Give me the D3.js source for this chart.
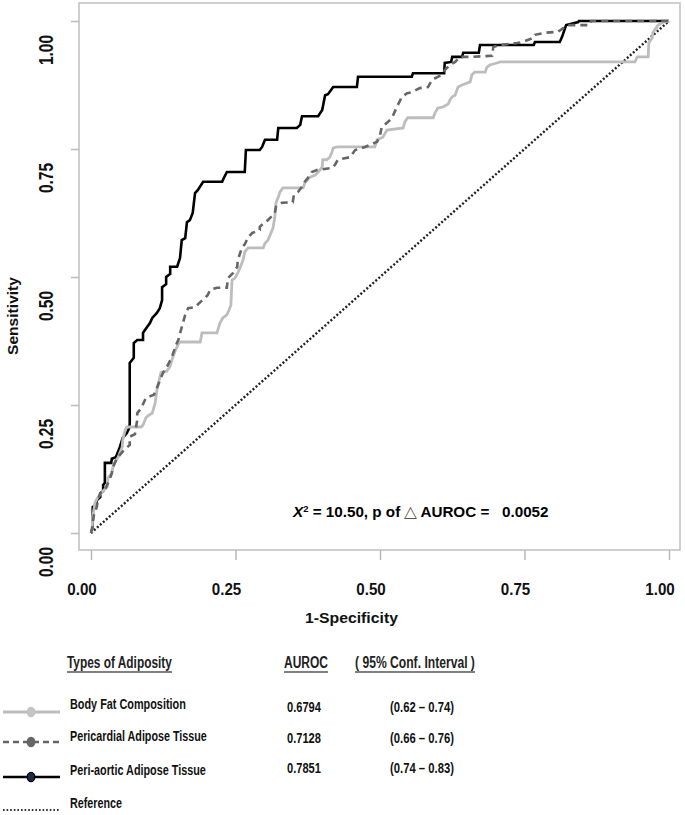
<!DOCTYPE html>
<html><head><meta charset="utf-8">
<script src="https://cdn.jsdelivr.net/npm/d3@7"></script>
<style>
body{margin:0;background:#fff;}
svg text{font-family:Arial,"Liberation Sans",Helvetica,sans-serif;font-weight:bold;white-space:pre;}
</style>
</head><body>
<svg id="chart" width="685" height="815"></svg>
<script>
// ---------------- data ----------------
const xTickValues = [0, 0.25, 0.5, 0.75, 1];
const xTickLabels = ["0.00", "0.25", "0.50", "0.75", "1.00"];
const yTickValues = [0, 0.25, 0.5, 0.75, 1];
const yTickLabels = ["0.00", "0.25", "0.50", "0.75", "1.00"];
const xTitle = "1-Specificity";
const yTitle = "Sensitivity";

const seriesNames = ["Body Fat Composition", "Pericardial Adipose Tissue", "Peri-aortic Adipose Tissue", "Reference"];
const aurocValues = ["0.6794", "0.7128", "0.7851"];
const ciLabels = ["(0.62 \u2013 0.74)", "(0.66 \u2013 0.76)", "(0.74 \u2013 0.83)"];
const legendHeaders = ["Types of Adiposity", "AUROC", "( 95% Conf. Interval )"];

// Body fat composition ROC (1-specificity, sensitivity)
const bodyFatFpr = [0,0.002,0.003,0.007,0.012,0.019,0.028,0.029,0.036,0.038,0.042,0.047,0.054,0.055,0.059,0.062,0.087,0.090,0.095,0.100,0.106,0.111,0.114,0.118,0.121,0.131,0.137,0.140,0.145,0.151,0.154,0.189,0.192,0.218,0.223,0.228,0.235,0.239,0.242,0.244,0.249,0.254,0.258,0.263,0.266,0.272,0.298,0.301,0.306,0.310,0.315,0.318,0.320,0.324,0.327,0.332,0.367,0.370,0.374,0.379,0.388,0.396,0.400,0.401,0.408,0.413,0.417,0.419,0.426,0.491,0.495,0.505,0.512,0.540,0.543,0.548,0.592,0.595,0.600,0.609,0.618,0.621,0.625,0.630,0.633,0.635,0.642,0.656,0.659,0.664,0.682,0.685,0.690,0.702,0.708,0.941,0.945,0.964,0.965,0.971,0.972,0.981,0.990,1.0];
const bodyFatTpr = [0,0.006,0.031,0.059,0.070,0.080,0.090,0.107,0.117,0.129,0.139,0.148,0.168,0.182,0.201,0.207,0.207,0.211,0.225,0.230,0.234,0.254,0.279,0.299,0.313,0.316,0.326,0.338,0.354,0.369,0.373,0.373,0.391,0.391,0.410,0.420,0.426,0.436,0.445,0.494,0.498,0.508,0.518,0.533,0.549,0.557,0.557,0.566,0.572,0.582,0.596,0.617,0.645,0.656,0.666,0.674,0.674,0.684,0.689,0.695,0.699,0.709,0.715,0.729,0.729,0.734,0.744,0.752,0.754,0.754,0.768,0.773,0.787,0.791,0.803,0.811,0.811,0.820,0.830,0.832,0.838,0.846,0.852,0.855,0.865,0.871,0.875,0.881,0.895,0.900,0.900,0.910,0.914,0.918,0.920,0.920,0.930,0.930,0.957,0.967,0.977,0.992,0.998,1.0];

// Pericardial adipose tissue ROC
const pericardialFpr = [0,0.002,0.005,0.010,0.012,0.016,0.024,0.028,0.033,0.036,0.038,0.045,0.054,0.061,0.067,0.067,0.076,0.080,0.080,0.087,0.095,0.109,0.116,0.125,0.133,0.140,0.147,0.151,0.157,0.163,0.168,0.180,0.189,0.197,0.202,0.206,0.218,0.235,0.237,0.246,0.253,0.254,0.261,0.266,0.272,0.279,0.292,0.292,0.301,0.306,0.318,0.320,0.324,0.330,0.349,0.351,0.358,0.365,0.370,0.375,0.382,0.391,0.417,0.422,0.427,0.439,0.448,0.457,0.474,0.495,0.500,0.503,0.514,0.521,0.529,0.538,0.547,0.555,0.569,0.583,0.590,0.600,0.607,0.612,0.621,0.630,0.638,0.656,0.694,0.696,0.708,0.737,0.747,0.765,0.768,0.785,0.808,0.817,0.824,0.863,0.865,1.0];
const pericardialTpr = [0,0.010,0.035,0.051,0.064,0.078,0.084,0.094,0.107,0.117,0.129,0.146,0.158,0.166,0.172,0.188,0.193,0.221,0.234,0.244,0.264,0.270,0.289,0.314,0.328,0.344,0.367,0.377,0.402,0.426,0.439,0.441,0.451,0.459,0.465,0.475,0.479,0.479,0.498,0.508,0.520,0.533,0.557,0.564,0.578,0.586,0.592,0.598,0.607,0.611,0.625,0.637,0.641,0.645,0.646,0.660,0.666,0.676,0.686,0.693,0.705,0.709,0.713,0.719,0.729,0.732,0.734,0.748,0.754,0.764,0.777,0.793,0.803,0.811,0.832,0.852,0.859,0.861,0.869,0.871,0.885,0.891,0.895,0.904,0.914,0.920,0.930,0.930,0.932,0.949,0.953,0.957,0.959,0.967,0.973,0.977,0.979,0.986,0.992,0.992,1.0,1.0];

// Peri-aortic adipose tissue ROC
const periAorticFpr = [0,0.003,0.003,0.009,0.010,0.016,0.016,0.021,0.021,0.024,0.024,0.035,0.036,0.043,0.050,0.055,0.062,0.066,0.067,0.067,0.071,0.074,0.074,0.080,0.090,0.090,0.093,0.102,0.106,0.114,0.119,0.123,0.123,0.130,0.130,0.137,0.137,0.149,0.154,0.157,0.163,0.166,0.171,0.176,0.180,0.185,0.194,0.227,0.228,0.235,0.266,0.268,0.292,0.296,0.301,0.322,0.324,0.356,0.362,0.365,0.393,0.400,0.405,0.410,0.419,0.460,0.462,0.555,0.557,0.611,0.612,0.623,0.625,0.642,0.644,0.671,0.673,0.766,0.768,0.811,0.815,0.822,0.843,0.844,1.0];
const periAorticTpr = [0,0.010,0.051,0.055,0.064,0.070,0.078,0.082,0.094,0.098,0.137,0.137,0.145,0.148,0.168,0.186,0.195,0.205,0.213,0.332,0.338,0.342,0.371,0.377,0.377,0.391,0.396,0.410,0.420,0.430,0.439,0.455,0.480,0.486,0.500,0.506,0.520,0.520,0.537,0.572,0.576,0.607,0.611,0.625,0.664,0.670,0.686,0.686,0.689,0.705,0.705,0.748,0.748,0.754,0.768,0.768,0.791,0.791,0.797,0.814,0.814,0.826,0.855,0.857,0.871,0.871,0.891,0.891,0.898,0.898,0.918,0.920,0.930,0.930,0.938,0.938,0.953,0.953,0.959,0.959,0.969,0.992,0.998,1.0,1.0];

// Reference (chance) line
const referenceFpr = [0, 1];
const referenceTpr = [0, 1];

const annotationParts = ["X", "2", " = 10.50, p of ", "\u25B3", " AUROC =   0.0052"];

// ---------------- layout ----------------
const svg = d3.select("#chart");
const x = d3.scaleLinear().domain([0, 1]).range([91, 669]);
const y = d3.scaleLinear().domain([0, 1]).range([533, 21]);
const frame = {left: 79, right: 680, top: 3, bottom: 550};

function zip(a, b) { return a.map((v, i) => [v, b[i]]); }

function fitText(parent, opt) {
  const g = parent.append("g");
  const t = g.append("text")
    .attr("font-size", opt.size)
    .attr("text-anchor", opt.anchor || "start")
    .attr("fill", opt.fill || "#000");
  if (opt.text !== undefined) t.text(opt.text);
  if (opt.build) opt.build(t);
  const w = t.node().getComputedTextLength();
  const sx = opt.width ? opt.width / w : 1;
  g.attr("transform", `translate(${opt.x},${opt.y}) rotate(${opt.rotate || 0}) scale(${sx},1)`);
  return t;
}

// frame
svg.append("rect")
  .attr("x", frame.left).attr("y", frame.top)
  .attr("width", frame.right - frame.left).attr("height", frame.bottom - frame.top)
  .attr("fill", "none").attr("stroke", "#c4c4c4").attr("stroke-width", 1.6);

// axes (ticks only)
const axisColor = "#b8b8b8";
const xAxis = svg.append("g").attr("transform", `translate(0,${frame.bottom})`)
  .call(d3.axisBottom(x).tickValues(xTickValues).tickSize(10).tickFormat(""));
const yAxis = svg.append("g").attr("transform", `translate(${frame.left},0)`)
  .call(d3.axisLeft(y).tickValues(yTickValues).tickSize(8).tickFormat(""));
[xAxis, yAxis].forEach(a => {
  a.select(".domain").remove();
  a.selectAll(".tick line").attr("stroke", axisColor).attr("stroke-width", 1.5);
});

// tick labels (offset as in the original figure)
xTickValues.forEach((v, i) => {
  fitText(svg, {x: x(v) - 9, y: 595, text: xTickLabels[i], size: 16.5, width: 29.5, anchor: "middle", fill: "#111"});
});
yTickValues.forEach((v, i) => {
  fitText(svg, {x: 53, y: y(v) + 29, text: yTickLabels[i], size: 20.5, width: 30, anchor: "middle", rotate: -90, fill: "#111"});
});

// axis titles
fitText(svg, {x: 305, y: 623, text: xTitle, size: 14.5, width: 93, fill: "#111"});
fitText(svg, {x: 18, y: 316, text: yTitle, size: 14.5, width: 78, anchor: "middle", rotate: -90, fill: "#111"});

// curves
const line = d3.line().x(d => x(d[0])).y(d => y(d[1]));
const plot = svg.append("g");
plot.append("path").datum(zip(referenceFpr, referenceTpr)).attr("d", line)
  .attr("fill", "none").attr("stroke", "#222").attr("stroke-width", 2.4).attr("stroke-dasharray", "2,2");
plot.append("path").datum(zip(periAorticFpr, periAorticTpr)).attr("d", line)
  .attr("fill", "none").attr("stroke", "#000").attr("stroke-width", 2.6);
plot.append("path").datum(zip(bodyFatFpr, bodyFatTpr)).attr("d", line)
  .attr("fill", "none").attr("stroke", "#bdbdbd").attr("stroke-width", 2.8);
plot.append("path").datum(zip(pericardialFpr, pericardialTpr)).attr("d", line)
  .attr("fill", "none").attr("stroke", "#666").attr("stroke-width", 2.6).attr("stroke-dasharray", "7,5");

// annotation
fitText(svg, {x: 293, y: 517, size: 14.5, width: 256, build: t => {
  t.append("tspan").attr("font-style", "italic").text(annotationParts[0]);
  t.append("tspan").attr("font-size", 9).attr("dy", -5).text(annotationParts[1]);
  t.append("tspan").attr("dy", 5).text(annotationParts[2]);
  t.append("tspan").attr("font-weight", "normal").attr("fill", "#555").attr("font-size", 16).text(annotationParts[3]);
  t.append("tspan").text(annotationParts[4]);
}});

// legend header
const headerX = [67, 284, 355];
const headerW = [105, 44, 120];
legendHeaders.forEach((h, i) => {
  fitText(svg, {x: headerX[i], y: 668, text: h, size: 16, width: headerW[i], fill: "#222"});
  svg.append("line").attr("x1", headerX[i]).attr("x2", headerX[i] + headerW[i])
    .attr("y1", 672).attr("y2", 672).attr("stroke", "#555").attr("stroke-width", 1.3);
});

// legend rows
const rowLabelY = [709, 741, 775, 808];
const rowLabelW = [116, 137, 136, 52];
const rowValueY = [712, 743, 773];
const rowSymbolY = [712, 742, 777, 810];
seriesNames.forEach((name, i) => {
  fitText(svg, {x: 70, y: rowLabelY[i], text: name, size: 14.5, width: rowLabelW[i], fill: "#111"});
});
aurocValues.forEach((v, i) => {
  fitText(svg, {x: 287, y: rowValueY[i], text: v, size: 14.5, width: 34, fill: "#111"});
  fitText(svg, {x: 390, y: rowValueY[i], text: ciLabels[i], size: 14.5, width: 64, fill: "#111"});
});

const sym = svg.append("g");
const symStyles = [
  {stroke: "#bdbdbd", dash: null, width: 2.8, fill: "#c4c4c4", out: "#c4c4c4"},
  {stroke: "#666", dash: "6,4", width: 2.4, fill: "#666", out: "#666"},
  {stroke: "#000", dash: null, width: 2.4, fill: "#1d2a44", out: "#000"},
  {stroke: "#333", dash: "1.6,2", width: 2, fill: null, out: null}
];
symStyles.forEach((s, i) => {
  sym.append("line").attr("x1", 3).attr("x2", 60).attr("y1", rowSymbolY[i]).attr("y2", rowSymbolY[i])
    .attr("stroke", s.stroke).attr("stroke-width", s.width).attr("stroke-dasharray", s.dash);
  if (s.fill) {
    sym.append("ellipse").attr("cx", 31).attr("cy", rowSymbolY[i]).attr("rx", 3.8).attr("ry", 4.6)
      .attr("fill", s.fill).attr("stroke", s.out).attr("stroke-width", 1.2);
  }
});
</script>
</body></html>
